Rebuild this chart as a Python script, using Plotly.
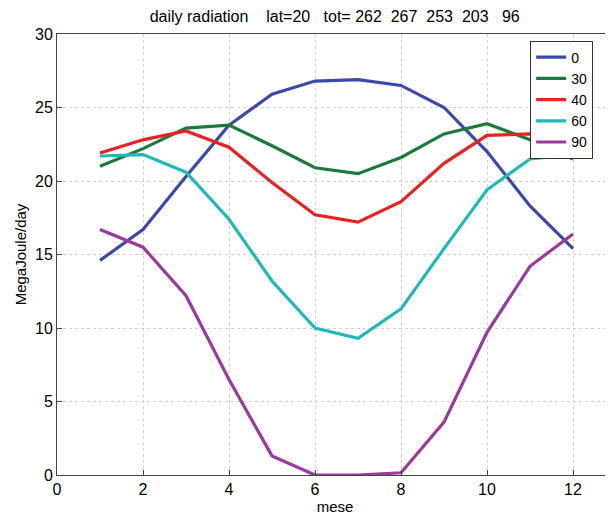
import plotly.graph_objects as go

months = list(range(1, 13))
lat_labels = ["0", "30", "40", "60", "90"]
rad_0 = [14.6, 16.7, 20.3, 23.8, 25.9, 26.8, 26.9, 26.5, 25.0, 22.0, 18.3, 15.4]
rad_30 = [21.0, 22.2, 23.6, 23.8, 22.4, 20.9, 20.5, 21.6, 23.2, 23.9, 22.8, 21.5]
rad_40 = [21.9, 22.8, 23.4, 22.3, 19.9, 17.7, 17.2, 18.6, 21.2, 23.1, 23.2, 22.2]
rad_60 = [21.7, 21.8, 20.6, 17.4, 13.2, 10.0, 9.3, 11.3, 15.4, 19.4, 21.5, 21.8]
rad_90 = [16.7, 15.5, 12.2, 6.5, 1.3, 0.0, 0.0, 0.15, 3.6, 9.7, 14.2, 16.4]
x_ticks = [0, 2, 4, 6, 8, 10, 12]
y_ticks = [0, 5, 10, 15, 20, 25, 30]
sp = "\u00a0"
title_text = ("daily radiation" + sp * 4 + "lat=20" + sp * 3 + "tot=" + sp + "262" + sp * 2 +
              "267" + sp * 2 + "253" + sp * 2 + "203" + sp * 3 + "96")

series = [rad_0, rad_30, rad_40, rad_60, rad_90]
colors = ["#3b4aa8", "#1d7a3a", "#e8221f", "#22b8b8", "#9a3a9c"]

fig = go.Figure()
for name, vals, col in zip(lat_labels, series, colors):
    fig.add_trace(go.Scatter(x=months, y=vals, mode="lines", name=name,
                             line=dict(color=col, width=3.2)))

font_family = "Liberation Sans, Arial, sans-serif"
fig.update_layout(
    width=605, height=509,
    margin=dict(l=49, r=0, t=26, b=42, autoexpand=False),
    paper_bgcolor="white", plot_bgcolor="white",
    font=dict(family=font_family, size=16, color="black"),
    title=dict(text=title_text, x=0.540, xanchor="center", y=0.983, yanchor="middle",
               font=dict(size=16, family=font_family)),
    showlegend=True,
    legend=dict(x=0.851, y=0.985, xanchor="left", yanchor="top",
                bgcolor="white", bordercolor="#333", borderwidth=1,
                font=dict(size=14, family=font_family), itemwidth=30,
                tracegroupgap=0),
    xaxis=dict(range=[0, 12.93], tickvals=x_ticks, showline=True, linecolor="#444",
               linewidth=1, mirror=True, ticks="inside", ticklen=5, tickcolor="#444",
               showgrid=True, gridcolor="#cfcfcf", griddash="dot", gridwidth=1,
               zeroline=False, title=dict(text="mese", font=dict(size=15), standoff=0),
               tickfont=dict(size=16), automargin=False),
    yaxis=dict(range=[0, 30], tickvals=y_ticks, showline=True, linecolor="#444",
               linewidth=1, ticks="inside", ticklen=5, tickcolor="#444",
               showgrid=True, gridcolor="#cfcfcf", griddash="dot", gridwidth=1,
               zeroline=False, title=dict(text="MegaJoule/day", font=dict(size=15), standoff=4),
               tickfont=dict(size=16), automargin=False),
)

fig.write_html("out.html")
